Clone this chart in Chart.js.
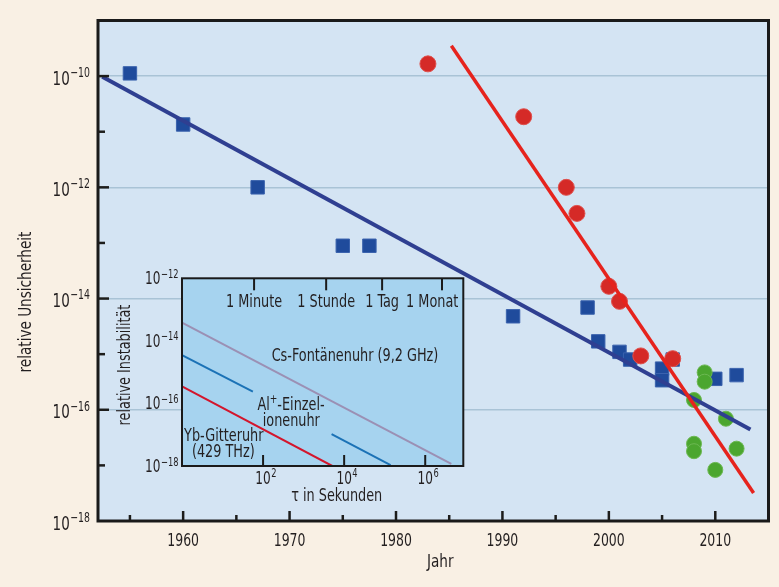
<!DOCTYPE html>
<html><head><meta charset="utf-8">
<script src="https://cdn.jsdelivr.net/npm/chart.js@4.4.0/dist/chart.umd.min.js"></script>
<style>
html,body{margin:0;padding:0;background:#f9f0e4;}
#wrap{position:relative;width:779px;height:587px;overflow:hidden;}
#main{position:absolute;left:0;top:0;}
#inset{position:absolute;left:100px;top:255px;}
</style></head><body>
<div id="wrap"><canvas id="main" width="779" height="587"></canvas><canvas id="inset" width="370" height="255"></canvas></div>
<script>
// ---------- main chart data ----------
const csYears  = [1955, 1960, 1967, 1975, 1977.5, 1991, 1998, 1999, 2001, 2002, 2005, 2005, 2006, 2010, 2012];
const csValues = [1.12e-10, 1.35e-11, 1.0e-12, 8.9e-14, 8.9e-14, 4.8e-15, 6.9e-15, 1.7e-15, 1.1e-15, 8.0e-16, 5.5e-16, 3.4e-16, 8.0e-16, 3.6e-16, 4.2e-16];
const optYears  = [1983, 1992, 1996, 1997, 2000, 2001, 2003, 2006];
const optValues = [1.66e-10, 1.86e-11, 1.0e-12, 3.4e-13, 1.66e-14, 8.9e-15, 9.3e-16, 8.3e-16];
const newYears  = [2008, 2008, 2008, 2009, 2009, 2010, 2011, 2012];
const newValues = [1.5e-16, 2.45e-17, 1.8e-17, 4.7e-16, 3.2e-16, 8.3e-18, 6.9e-17, 2.0e-17];
const csTrendYears  = [1952.4, 2013.3];
const csTrendValues = [9.7e-11, 4.4e-17];
const optTrendYears  = [1985.2, 2013.6];
const optTrendValues = [3.5e-10, 3.2e-18];
const yearTicks = [1955, 1960, 1965, 1970, 1975, 1980, 1985, 1990, 1995, 2000, 2005, 2010];
const yExponents = [-18, -17, -16, -15, -14, -13, -12, -11, -10, -9];
const yLabelExponents = [-18, -16, -14, -12, -10];

// ---------- inset data ----------
const tauCs = [1, 4.4e6];         const instCs = [3.8e-14, 1.17e-18];
const tauAlA = [1, 56];           const instAlA = [3.5e-15, 2.4e-16];
const tauAlB = [4900, 1.4e5];     const instAlB = [1.05e-17, 1.07e-18];
const tauYb = [1, 5100];          const instYb = [3.5e-16, 1.0e-18];
const timeMarks  = [60, 3600, 86400, 2592000];
const timeLabels = ['1 Minute', '1 Stunde', '1 Tag', '1 Monat'];
const tauTickExps = [2, 4, 6];
const instLabelExps = [-18, -16, -14, -12];

const FONT = "'Liberation Sans Narrow','DejaVu Sans Condensed','DejaVu Sans',sans-serif";
const TXT = '#231f20';
const BEIGE = '#f9f0e4';
const PLOT_BG = '#d4e4f3';
const INSET_BG = '#a6d3ef';

const pts = (xs, ys) => xs.map((x, i) => ({x: x, y: ys[i]}));

function setFont(ctx, size){ ctx.font = size + 'px ' + FONT; }
// horizontal condensing factors, so that the available font matches the condensed face of the original
const mctx = document.createElement('canvas').getContext('2d');
setFont(mctx, 17); const SXW = Math.min(1, 166.7 / mctx.measureText('Cs-Fontänenuhr (9,2 GHz)').width);
setFont(mctx, 18); const SXD = Math.min(1, 31.7 / mctx.measureText('1970').width);

function tw(ctx, s, size, sx){ setFont(ctx, size); return ctx.measureText(s).width * sx; }
function text(ctx, s, x, y, size, sx, align, baseline){
  ctx.save(); ctx.translate(x, y); ctx.scale(sx, 1);
  setFont(ctx, size); ctx.textAlign = align || 'center'; ctx.textBaseline = baseline || 'middle';
  ctx.fillStyle = TXT; ctx.fillText(s, 0, 0); ctx.restore();
}
// draws 10^exp ; mode 'right': right edge at x ; mode 'center': base centred at x
function powLabel(ctx, exp, x, baseY, bSize, eSize, raise, mode){
  const base = '10', ex = (exp < 0 ? '\u2212' + (-exp) : String(exp));
  const bw = tw(ctx, base, bSize, SXD), ew = tw(ctx, ex, eSize, SXD);
  const bx = (mode === 'right') ? x - ew - bw - 0.5 : x - bw / 2;
  text(ctx, base, bx, baseY, bSize, SXD, 'left', 'alphabetic');
  text(ctx, ex, bx + bw + 0.5, baseY - raise, eSize, SXD, 'left', 'alphabetic');
}

const mainDeco = {
  id: 'mainDeco',
  beforeDraw(chart){
    const {ctx, chartArea: a} = chart;
    ctx.save();
    ctx.fillStyle = BEIGE; ctx.fillRect(0, 0, chart.width, chart.height);
    ctx.fillStyle = PLOT_BG; ctx.fillRect(a.left, a.top, a.right - a.left, a.bottom - a.top);
    ctx.restore();
  },
  afterDraw(chart){
    const {ctx, chartArea: a} = chart;
    const xs = chart.scales.x, ys = chart.scales.y;
    ctx.save();
    // inward ticks
    ctx.strokeStyle = '#1d1d1b'; ctx.lineWidth = 2.5;
    yearTicks.forEach(v => {
      const px = xs.getPixelForValue(v); const len = (v % 10 === 0) ? 10 : 6;
      ctx.beginPath(); ctx.moveTo(px, a.bottom); ctx.lineTo(px, a.bottom - len); ctx.stroke();
    });
    yExponents.forEach(e => {
      if (e === -18 || e === -9) return;
      const py = ys.getPixelForValue(Math.pow(10, e)); const len = (e % 2 === 0) ? 11 : 7;
      ctx.beginPath(); ctx.moveTo(a.left, py); ctx.lineTo(a.left + len, py); ctx.stroke();
    });
    // frame
    ctx.lineWidth = 3; ctx.strokeStyle = '#1a1a1a';
    ctx.strokeRect(a.left, a.top, a.right - a.left, a.bottom - a.top);
    // x labels (years)
    yearTicks.forEach(v => { if (v % 10 !== 0) return;
      text(ctx, String(v), xs.getPixelForValue(v), a.bottom + 24.7, 18, SXD, 'center', 'alphabetic'); });
    // y labels
    yLabelExponents.forEach(e => {
      const py = ys.getPixelForValue(Math.pow(10, e));
      powLabel(ctx, e, a.left - 8, py + 8.5, 19.5, 13.5, 7.7, 'right');
    });
    // titles
    text(ctx, 'Jahr', (a.left + a.right) / 2 + 7, 562, 18, SXW);
    ctx.save(); ctx.translate(26, 302); ctx.rotate(-Math.PI / 2);
    text(ctx, 'relative Unsicherheit', 0, 0, 18, SXW);
    ctx.restore();
    ctx.restore();
  }
};

new Chart(document.getElementById('main'), {
  type: 'scatter',
  data: { datasets: [
    { label: 'Cs-Atomuhren', data: pts(csYears, csValues), pointStyle: 'rect', pointRadius: 9.5,
      backgroundColor: '#1f4b9c', borderColor: '#3a62ad', borderWidth: 1, order: 4 },
    { label: 'Optische Uhren', data: pts(optYears, optValues), pointStyle: 'circle', pointRadius: 8,
      backgroundColor: '#d52a27', borderColor: '#e0504c', borderWidth: 1, order: 3 },
    { label: 'Optische Uhren (neu)', data: pts(newYears, newValues), pointStyle: 'circle', pointRadius: 7.5,
      backgroundColor: '#4ba62f', borderColor: '#6cb852', borderWidth: 1, order: 2 },
    { label: 'Trend Cs', type: 'line', showLine: true, data: pts(csTrendYears, csTrendValues),
      borderColor: '#2f3f91', borderWidth: 4, pointRadius: 0, order: 1 },
    { label: 'Trend optisch', type: 'line', showLine: true, data: pts(optTrendYears, optTrendValues),
      borderColor: '#e6231d', borderWidth: 3.5, pointRadius: 0, order: 0 }
  ]},
  options: {
    responsive: false, animation: false, devicePixelRatio: 1,
    layout: { padding: { left: 0, top: 20.5, right: 9, bottom: 0 } },
    plugins: { legend: { display: false }, tooltip: { enabled: false } },
    scales: {
      x: { type: 'linear', min: 1952, max: 2015,
        afterBuildTicks: s => { s.ticks = yearTicks.map(v => ({ value: v })); },
        afterFit: s => { s.height = 66; },
        grid: { display: false, drawTicks: false }, border: { display: false },
        ticks: { display: false } },
      y: { type: 'logarithmic', min: 1e-18, max: 1e-9,
        afterBuildTicks: s => { s.ticks = yExponents.map(e => ({ value: Math.pow(10, e) })); },
        afterFit: s => { s.width = 98; },
        grid: { drawTicks: false, lineWidth: 1.5,
          color: c => { const e = Math.round(Math.log10(c.tick.value)); return (e % 2 === 0 && e > -18 && e < -9) ? '#a9c3d6' : 'rgba(0,0,0,0)'; } },
        border: { display: false }, ticks: { display: false } }
    }
  },
  plugins: [mainDeco]
});

// ---------- inset ----------
const insetDeco = {
  id: 'insetDeco',
  beforeDraw(chart){
    const {ctx, chartArea: a} = chart;
    ctx.save(); ctx.fillStyle = INSET_BG; ctx.fillRect(a.left, a.top, a.right - a.left, a.bottom - a.top); ctx.restore();
  },
  afterDraw(chart){
    const {ctx, chartArea: a} = chart;
    const xs = chart.scales.x, ys = chart.scales.y;
    ctx.save();
    ctx.strokeStyle = '#1a1a1a'; ctx.lineWidth = 2;
    timeMarks.forEach(t => { const px = xs.getPixelForValue(t);
      ctx.beginPath(); ctx.moveTo(px, a.top); ctx.lineTo(px, a.top + 12); ctx.stroke(); });
    tauTickExps.forEach(e => { const px = xs.getPixelForValue(Math.pow(10, e));
      ctx.beginPath(); ctx.moveTo(px, a.bottom); ctx.lineTo(px, a.bottom - 11); ctx.stroke(); });
    ctx.strokeRect(a.left, a.top, a.right - a.left, a.bottom - a.top);
    // top time labels
    timeMarks.forEach((t, i) => {
      let cx = xs.getPixelForValue(t); const w = tw(ctx, timeLabels[i], 17, SXW);
      if (cx + w / 2 > a.right - 5) cx = a.right - 5 - w / 2;
      text(ctx, timeLabels[i], cx, a.top + 24.4, 17, SXW);
    });
    // axis labels
    instLabelExps.forEach(e => { const py = ys.getPixelForValue(Math.pow(10, e));
      powLabel(ctx, e, a.left - 3.5, py + 6, 17.5, 12, 6.5, 'right'); });
    tauTickExps.forEach(e => { const px = xs.getPixelForValue(Math.pow(10, e));
      powLabel(ctx, e, px, a.bottom + 18, 17.5, 12, 7.5, 'center'); });
    // clock labels
    text(ctx, 'Cs-Fontänenuhr (9,2 GHz)', a.left + 173, a.top + 78.7, 17, SXW);
    const w1 = tw(ctx, 'Al', 17, SXW), w2 = tw(ctx, '+', 12, SXW), w3 = tw(ctx, '-Einzel-', 17, SXW);
    const sx0 = a.left + 109 - (w1 + w2 + w3) / 2, by = a.top + 131.5;
    text(ctx, 'Al', sx0, by, 17, SXW, 'left', 'alphabetic');
    text(ctx, '+', sx0 + w1, by - 7, 12, SXW, 'left', 'alphabetic');
    text(ctx, '-Einzel-', sx0 + w1 + w2, by, 17, SXW, 'left', 'alphabetic');
    text(ctx, 'ionenuhr', a.left + 109.3, a.top + 143.4, 17, SXW);
    text(ctx, 'Yb-Gitteruhr', a.left + 41.8, a.top + 158.4, 17, SXW);
    text(ctx, '(429 THz)', a.left + 41.3, a.top + 174.4, 17, SXW);
    text(ctx, '\u03c4 in Sekunden', a.left + 154.7, a.top + 218.4, 17, SXW);
    ctx.save(); ctx.translate(a.left - 56.2, a.top + 86.7); ctx.rotate(-Math.PI / 2);
    text(ctx, 'relative Instabilität', 0, 0, 17, SXW);
    ctx.restore();
    ctx.restore();
  }
};

new Chart(document.getElementById('inset'), {
  type: 'scatter',
  data: { datasets: [
    { label: 'Cs-Fontänenuhr', type: 'line', showLine: true, data: pts(tauCs, instCs), borderColor: '#9b90b4', borderWidth: 2, pointRadius: 0 },
    { label: 'Al+-Einzelionenuhr', type: 'line', showLine: true, data: pts(tauAlA, instAlA), borderColor: '#1b72b6', borderWidth: 2, pointRadius: 0 },
    { label: 'Al+-Einzelionenuhr (2)', type: 'line', showLine: true, data: pts(tauAlB, instAlB), borderColor: '#1b72b6', borderWidth: 2, pointRadius: 0 },
    { label: 'Yb-Gitteruhr', type: 'line', showLine: true, data: pts(tauYb, instYb), borderColor: '#d3152c', borderWidth: 2, pointRadius: 0 }
  ]},
  options: {
    responsive: false, animation: false, devicePixelRatio: 1,
    layout: { padding: { left: 0, top: 23.3, right: 6.7, bottom: 0 } },
    plugins: { legend: { display: false }, tooltip: { enabled: false } },
    scales: {
      x: { type: 'logarithmic', min: 1, max: 8.7e6, afterFit: s => { s.height = 44; },
        grid: { display: false, drawTicks: false }, border: { display: false }, ticks: { display: false } },
      y: { type: 'logarithmic', min: 1e-18, max: 1e-12, afterFit: s => { s.width = 82; },
        grid: { display: false, drawTicks: false }, border: { display: false }, ticks: { display: false } }
    }
  },
  plugins: [insetDeco]
});
</script>
</body></html>
